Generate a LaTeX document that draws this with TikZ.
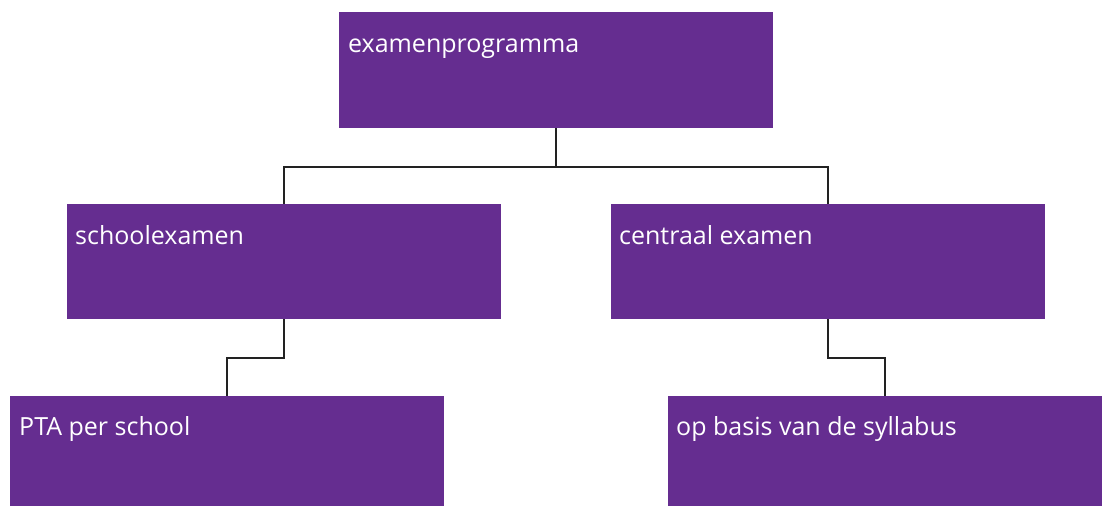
\documentclass[tikz,border=0pt]{standalone}
\usepackage{fontspec}
\setmainfont{Open Sans}
\definecolor{purp}{HTML}{652D90}
\definecolor{linec}{HTML}{222222}
\begin{document}
\begin{tikzpicture}[x=1pt,y=-1pt,
  box/.style={fill=purp, draw=none, anchor=north west, inner sep=0pt, outer sep=0pt, minimum width=434pt},
  lbl/.style={anchor=base west, text=white, inner sep=0pt, font=\fontsize{25}{30}\selectfont},
  conn/.style={draw=linec, line width=2.4pt}]
\useasboundingbox (0,0) rectangle (1102,506);
\node[box, minimum height=116pt] (top) at (339,12) {};
\node[box, minimum height=115pt] (school) at (67,204) {};
\node[box, minimum height=115pt] (central) at (611,204) {};
\node[box, minimum height=110pt] (pta) at (10,396) {};
\node[box, minimum height=110pt] (basis) at (668,396) {};
\node[lbl] (ttop) at (348,52) {examenprogramma};
\node[lbl] (tschool) at (75,244) {schoolexamen};
\node[lbl] (tcentral) at (619,244) {centraal examen};
\node[lbl] (tpta) at (19,435) {PTA per school};
\node[lbl] (tbasis) at (676,435) {op basis van de syllabus};
\draw[conn] (top.south) -- ++(0,39) coordinate (hub) -| (school.north);
\draw[conn] (hub) -| (central.north);
\draw[conn] (school.south) -- ++(0,39) -| (pta.north);
\draw[conn] (central.south) -- ++(0,39) -| (basis.north);
\end{tikzpicture}
\end{document}
